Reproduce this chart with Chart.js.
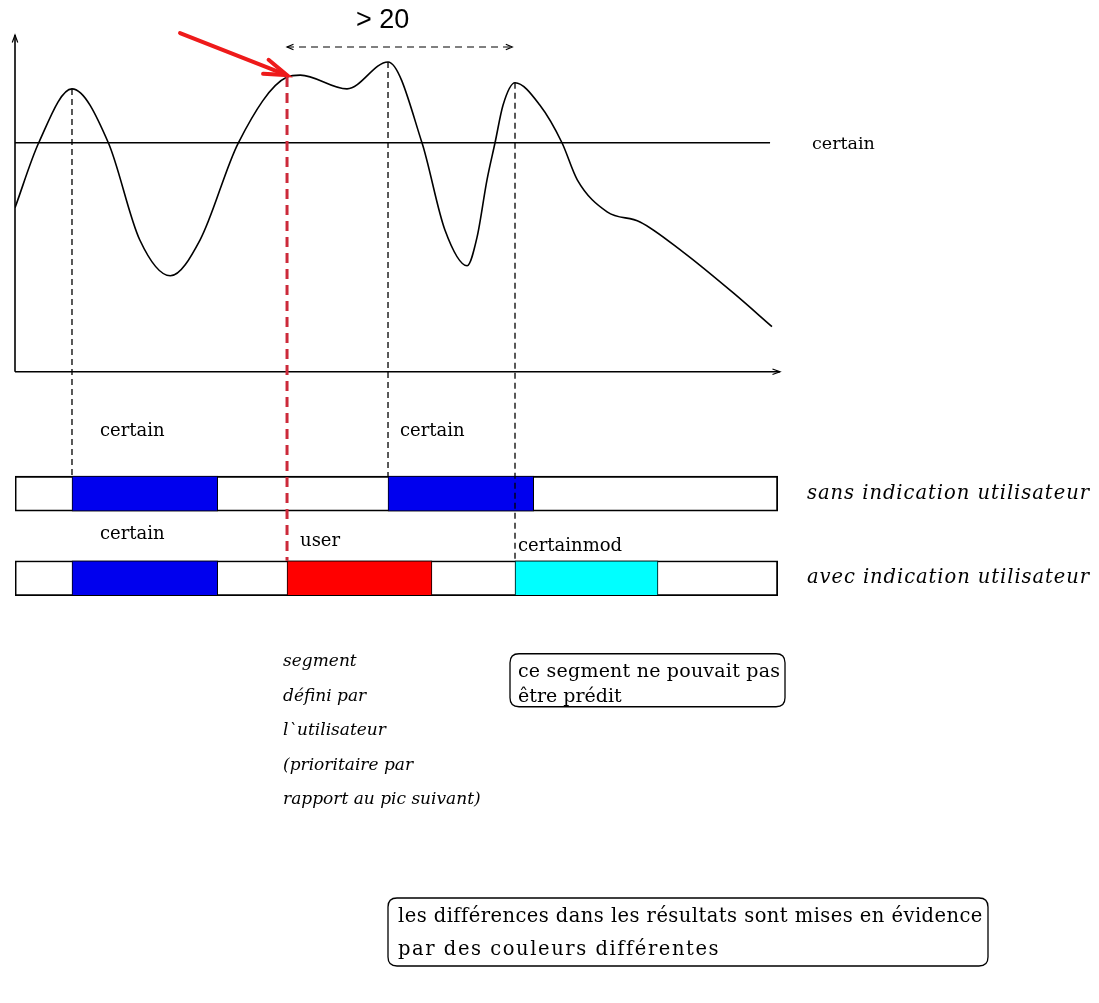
<!DOCTYPE html>
<html>
<head>
<meta charset="utf-8">
<script src="https://cdn.jsdelivr.net/npm/chart.js@4/dist/chart.umd.min.js"></script>
<style>
html,body{margin:0;padding:0;background:#fff;}
canvas{display:block;}
</style>
</head>
<body>
<canvas id="c" width="1099" height="1003"></canvas>
<script>
// ---------- data ----------
const curveX = [0, 3.1, 7.45, 12.2, 16.3, 20.3, 24.2, 29.2, 35.56, 37.3, 43.4, 48.76, 53.2, 56.2, 59.1, 60.4, 61.7, 62.75, 63.8, 65.36, 68.6, 71.5, 73.5, 77.4, 81.7, 87.3, 93.9, 98.95];
const curveY = [48.7, 68.0, 84.0, 68.0, 39.2, 28.5, 39.2, 68.0, 87.5, 88.1, 84.0, 92.0, 68.0, 42.1, 31.5, 40.0, 57.0, 68.0, 79.2, 85.8, 79.2, 68.0, 57.0, 47.5, 44.5, 35.6, 23.4, 13.4];

const thresholdLevel = 68;
const thresholdEnd = 98.7;
const thresholdLabel = 'certain';

const axisX = [0, 100];
const axisY = [0, 100];

// guide lines from peaks down to the rows
const guideX    = [7.45, 48.76, 65.36, 35.56];
const guideTopY = [84.0, 92.0, 85.8, 87.5];
const guideRow  = [0, 0, 1, 1];

// rows of segments
const rowTitles = ['sans indication utilisateur', 'avec indication utilisateur'];
const rowLevel  = [-36.2, -61.3];
const rowExtent = [0, 99.7];

const sansStart  = [7.45, 48.76];
const sansEnd    = [26.5, 67.8];
const sansLabels = ['certain', 'certain'];
const sansKinds  = ['certain', 'certain'];

const avecStart  = [7.45, 35.56, 65.36];
const avecEnd    = [26.5, 54.5, 84.05];
const avecLabels = ['certain', 'user', 'certainmod'];
const avecKinds  = ['certain', 'user', 'certainmod'];

const gapLabel = '> 20';
const gapFrom = 35.56, gapTo = 65.0;

const noteUser = ['segment', 'défini par', 'l`utilisateur', '(prioritaire par', 'rapport au pic suivant)'];
const noteMod  = ['ce segment ne pouvait pas', 'être prédit'];
const noteDiff = ['les différences dans les résultats sont mises en évidence', 'par des couleurs différentes'];

// ---------- styles ----------
const kindColor = { certain: '#0000ee', user: '#ff0000', certainmod: '#00ffff', box: '#ffffff' };
const SERIF = '"DejaVu Serif", serif';
const BAR_T = 35;

// ---------- build datasets ----------
const barData = [], barColors = [], barBorder = [];
function addRow(r, starts, ends, kinds) {
  barData.push({ x: [rowExtent[0], rowExtent[1]], y: rowLevel[r] });
  barColors.push(kindColor.box); barBorder.push(1.8);
  starts.forEach((s, i) => {
    barData.push({ x: [s, ends[i]], y: rowLevel[r] });
    barColors.push(kindColor[kinds[i]]); barBorder.push(1);
  });
}
addRow(0, sansStart, sansEnd, sansKinds);
addRow(1, avecStart, avecEnd, avecKinds);

const curveData = curveX.map((x, i) => ({ x, y: curveY[i] }));
const thresholdData = [{ x: axisX[0], y: thresholdLevel }, { x: thresholdEnd, y: thresholdLevel }];

// ---------- drawing helpers ----------
function arrowHead(ctx, x1, y1, x2, y2, len, ang) {
  const a = Math.atan2(y2 - y1, x2 - x1);
  ctx.beginPath();
  ctx.moveTo(x2 - len * Math.cos(a - ang), y2 - len * Math.sin(a - ang));
  ctx.lineTo(x2, y2);
  ctx.lineTo(x2 - len * Math.cos(a + ang), y2 - len * Math.sin(a + ang));
  ctx.stroke();
}
function roundBox(ctx, x, y, w, h, r) {
  ctx.beginPath();
  ctx.moveTo(x + r, y);
  ctx.lineTo(x + w - r, y); ctx.quadraticCurveTo(x + w, y, x + w, y + r);
  ctx.lineTo(x + w, y + h - r); ctx.quadraticCurveTo(x + w, y + h, x + w - r, y + h);
  ctx.lineTo(x + r, y + h); ctx.quadraticCurveTo(x, y + h, x, y + h - r);
  ctx.lineTo(x, y + r); ctx.quadraticCurveTo(x, y, x + r, y);
  ctx.closePath(); ctx.stroke();
}
function fitText(ctx, t, x, y, w) {
  // draw text, stretching letter spacing to the given width
  const n = Math.max(t.length - 1, 1);
  ctx.letterSpacing = '0px';
  const base = ctx.measureText(t).width;
  ctx.letterSpacing = Math.max(0, (w - base) / n).toFixed(2) + 'px';
  ctx.fillText(t, x, y);
  ctx.letterSpacing = '0px';
}

const decor = {
  id: 'decor',
  beforeDatasetsDraw(chart) {
    const { ctx, scales: { x, y } } = chart;
    ctx.save();
    ctx.strokeStyle = '#000'; ctx.lineWidth = 1.6; ctx.setLineDash([]);
    const x0 = x.getPixelForValue(axisX[0]), y0 = y.getPixelForValue(axisY[0]);
    const xe = x.getPixelForValue(axisX[1]), ye = y.getPixelForValue(axisY[1]);
    ctx.beginPath(); ctx.moveTo(x0, y0); ctx.lineTo(xe, y0); ctx.stroke();
    ctx.beginPath(); ctx.moveTo(x0, y0); ctx.lineTo(x0, ye); ctx.stroke();
    ctx.lineWidth = 1.2;
    arrowHead(ctx, x0, y0, xe, y0, 8, 0.35);
    arrowHead(ctx, x0, y0, x0, ye, 8, 0.35);
    ctx.restore();
  },
  afterDatasetsDraw(chart) {
    const { ctx, scales: { x, y } } = chart;
    ctx.save();
    // threshold label
    ctx.fillStyle = '#000';
    ctx.font = '17.5px ' + SERIF;
    ctx.textBaseline = 'middle'; ctx.textAlign = 'left';
    ctx.fillText(thresholdLabel, 812, y.getPixelForValue(thresholdLevel) + 2);

    // guides
    guideX.forEach((gx, i) => {
      const px = x.getPixelForValue(gx);
      const top = y.getPixelForValue(guideTopY[i]);
      const bot = y.getPixelForValue(rowLevel[guideRow[i]]) - BAR_T / 2;
      const red = i === 3;
      ctx.strokeStyle = red ? '#cc2a3a' : '#000';
      ctx.lineWidth = red ? 3 : 1.3;
      ctx.setLineDash(red ? [10, 6] : [6, 4]);
      ctx.beginPath(); ctx.moveTo(px, top); ctx.lineTo(px, bot); ctx.stroke();
    });
    ctx.setLineDash([]);

    // red arrow to the user point
    const tx = x.getPixelForValue(guideX[3]), ty = y.getPixelForValue(guideTopY[3]) - 2;
    const sx = tx - 107, sy = ty - 42;
    ctx.strokeStyle = '#ee1a1a'; ctx.lineWidth = 4; ctx.lineCap = 'round';
    ctx.beginPath(); ctx.moveTo(sx, sy); ctx.lineTo(tx - 4, ty - 1.5); ctx.stroke();
    arrowHead(ctx, sx, sy, tx, ty, 24, 0.32);
    ctx.lineCap = 'butt';

    // > 20 gap arrow
    const gx1 = x.getPixelForValue(gapFrom), gx2 = x.getPixelForValue(gapTo);
    const gy = 47;
    ctx.strokeStyle = '#000'; ctx.lineWidth = 1.2; ctx.setLineDash([7, 5]);
    ctx.beginPath(); ctx.moveTo(gx1, gy); ctx.lineTo(gx2, gy); ctx.stroke();
    ctx.setLineDash([]);
    arrowHead(ctx, gx2, gy, gx1, gy, 7, 0.4);
    arrowHead(ctx, gx1, gy, gx2, gy, 7, 0.4);
    ctx.fillStyle = '#000';
    ctx.font = '27px "Liberation Sans", sans-serif';
    ctx.textAlign = 'center'; ctx.textBaseline = 'middle';
    ctx.fillText(gapLabel, (gx1 + gx2) / 2 - 17, 21);

    // row labels
    ctx.font = '18px ' + SERIF; ctx.textAlign = 'left'; ctx.textBaseline = 'alphabetic';
    const top0 = y.getPixelForValue(rowLevel[0]) - BAR_T / 2;
    const top1 = y.getPixelForValue(rowLevel[1]) - BAR_T / 2;
    const sansOff = [[28, -40], [12, -40]];
    sansLabels.forEach((t, i) => ctx.fillText(t, x.getPixelForValue(sansStart[i]) + sansOff[i][0], top0 + sansOff[i][1]));
    const avecOff = [[28, -22], [13, -15], [3, -10]];
    avecLabels.forEach((t, i) => ctx.fillText(t, x.getPixelForValue(avecStart[i]) + avecOff[i][0], top1 + avecOff[i][1]));

    // row titles
    ctx.font = 'italic 19.5px ' + SERIF; ctx.textBaseline = 'middle';
    rowTitles.forEach((t, r) => fitText(ctx, t, 807, y.getPixelForValue(rowLevel[r]), 282));

    // user note
    ctx.font = 'italic 17px ' + SERIF;
    const bot1 = y.getPixelForValue(rowLevel[1]) + BAR_T / 2;
    const ux = x.getPixelForValue(avecStart[1]) - 4;
    noteUser.forEach((t, i) => ctx.fillText(t, ux, bot1 + 66 + i * 34.5));

    // certainmod note box
    ctx.font = '19px ' + SERIF;
    const mx = x.getPixelForValue(avecStart[2]) - 5;
    ctx.strokeStyle = '#000'; ctx.lineWidth = 1.3;
    roundBox(ctx, mx, bot1 + 58, 275, 53, 9);
    fitText(ctx, noteMod[0], mx + 8, bot1 + 76, 262);
    ctx.fillText(noteMod[1], mx + 8, bot1 + 101);

    // difference note box
    ctx.font = '19.5px ' + SERIF;
    roundBox(ctx, 388, 898, 600, 68, 9);
    fitText(ctx, noteDiff[0], 398, 917, 584);
    fitText(ctx, noteDiff[1], 398, 950, 320);
    ctx.restore();
  }
};

new Chart(document.getElementById('c'), {
  type: 'line',
  data: {
    datasets: [
      { type: 'bar', indexAxis: 'y', data: barData, backgroundColor: barColors,
        borderColor: '#000', borderWidth: barBorder, borderSkipped: false, barThickness: BAR_T, order: 3 },
      { type: 'line', data: thresholdData, borderColor: '#000', borderWidth: 1.6, pointRadius: 0, fill: false, order: 2 },
      { type: 'line', data: curveData, borderColor: '#000', borderWidth: 1.6, pointRadius: 0, fill: false,
        cubicInterpolationMode: 'monotone', order: 1 }
    ]
  },
  options: {
    responsive: false, animation: false, events: [],
    layout: { padding: { left: 15, right: 319, top: 35, bottom: 382 } },
    plugins: { legend: { display: false }, tooltip: { enabled: false } },
    scales: {
      x: { type: 'linear', min: 0, max: 100, display: false, offset: false },
      y: { type: 'linear', min: -74, max: 100, display: false, offset: false }
    }
  },
  plugins: [decor]
});
</script>
</body>
</html>
